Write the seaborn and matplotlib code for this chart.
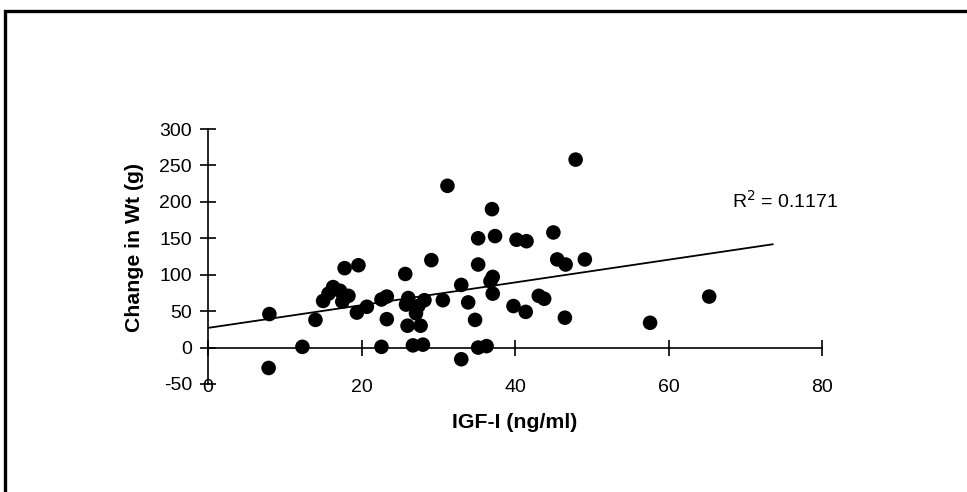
import matplotlib
matplotlib.use("Agg")
import matplotlib.pyplot as plt
import seaborn as sns
import numpy as np
import pandas as pd
from matplotlib.patches import Rectangle

# ---- data ----
igf = [8.0, 7.9, 12.3, 14.0, 17.8, 19.6, 25.7, 15.0, 15.7, 16.3,
       17.2, 18.3, 17.5, 19.4, 20.7, 22.6, 23.3, 23.3, 22.6, 26.1,
       25.8, 26.0, 26.7, 27.4, 28.2, 27.1, 27.7, 28.0, 29.1, 30.6,
       31.2, 33.0, 33.9, 34.8, 33.0, 35.2, 36.3, 35.2, 37.4, 35.2,
       37.0, 37.1, 36.8, 37.1, 40.2, 41.5, 39.8, 41.4, 43.1, 43.8,
       45.0, 45.5, 46.6, 49.1, 46.5, 47.9, 57.6, 65.3]
wt_change = [46, -28, 1, 38, 109, 113, 101, 64, 74, 83,
             78, 71, 63, 48, 56, 66, 70, 39, 1, 68,
             59, 30, 3, 57, 65, 47, 30, 4, 120, 65,
             222, 86, 62, 38, -16, 0, 2, 150, 153, 114,
             190, 97, 91, 74, 148, 146, 57, 49, 71, 67,
             158, 121, 114, 121, 41, 258, 34, 70]

trend_x = [0, 73.6]
trend_intercept = 27.0
trend_slope = 1.56
r_squared_label = "R$^2$ = 0.1171"

x_ticks = [0, 20, 40, 60, 80]
y_ticks = [-50, 0, 50, 100, 150, 200, 250, 300]
x_label = "IGF-I (ng/ml)"
y_label = "Change in Wt (g)"

# ---- plotting ----
sns.set_style("white")
plt.rcParams['font.family'] = ['Liberation Sans', 'DejaVu Sans']
plt.rcParams['axes.unicode_minus'] = False
plt.rcParams['text.color'] = 'black'

W, H = 967, 492
fig = plt.figure(figsize=(W / 100, H / 100), dpi=100)
ax = fig.add_axes([208 / W, 1 - 384 / H, (822 - 208) / W, (384 - 129) / H])

df = pd.DataFrame({"IGF": igf, "Wt": wt_change})
sns.scatterplot(data=df, x="IGF", y="Wt", ax=ax, color="black",
                edgecolor="none", s=110, marker="o", legend=False, zorder=3)

tx = np.array(trend_x)
ax.plot(tx, trend_intercept + trend_slope * tx, color="black", lw=1.3, zorder=2)

ax.set_xlim(0, 80)
ax.set_ylim(-50, 300)
ax.set_xticks(x_ticks)
ax.set_yticks(y_ticks)

for s in ["top", "right"]:
    ax.spines[s].set_visible(False)
ax.spines["bottom"].set_position(("data", 0))
ax.spines["left"].set_position(("data", 0))
for s in ["bottom", "left"]:
    ax.spines[s].set_linewidth(1.2)
    ax.spines[s].set_color("black")

ax.tick_params(axis="both", direction="inout", length=11, width=1.2,
               colors="black", labelcolor="black", labelsize=14)
ax.tick_params(axis="x", pad=17, bottom=True)
ax.tick_params(axis="y", pad=6, left=True)

ax.set_xlabel("")
ax.set_ylabel("")
fig.text(515 / W, 1 - 422 / H, x_label, ha="center", va="center",
         fontsize=15.3, fontweight="bold", color="black")
fig.text(134 / W, 1 - 248 / H, y_label, ha="center", va="center",
         rotation=90, fontsize=15.3, fontweight="bold", color="black")

ax.text(732 / W, 1 - 201 / H, r_squared_label, transform=fig.transFigure,
        ha="left", va="center", fontsize=14, color="black")

ax.set_facecolor("white")
fig.patch.set_facecolor("white")

# outer frame (only top and left visible in reference)
fig.patches.append(Rectangle((5.3 / W, -0.2), 1.5, 1.2 - 11.3 / H,
                             transform=fig.transFigure, fill=False,
                             edgecolor="black", lw=2.4, clip_on=False))

fig.savefig("out.png", dpi=100)
